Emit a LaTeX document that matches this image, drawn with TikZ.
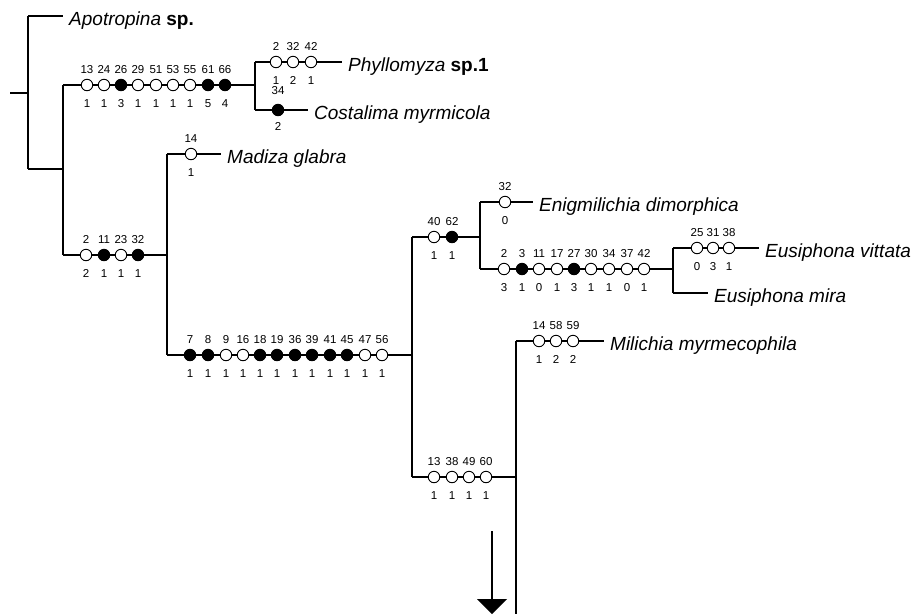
\documentclass[tikz,border=0pt]{standalone}
\usepackage{fontspec}
\setmainfont{Liberation Sans}
\usetikzlibrary{calc}

\begin{document}
\begin{tikzpicture}[x=1pt, y=-1pt,
    branch/.style={line width=1.8pt},
    open/.style={circle, draw, fill=white, line width=0.9pt, minimum size=11.5pt, inner sep=0pt},
    shut/.style={open, fill=black},
    num/.style={font=\fontsize{11.5}{12}\selectfont, inner sep=0pt},
    taxon/.style={anchor=base west, inner xsep=6pt, inner ysep=0pt, font=\fontsize{19}{21}\selectfont},
    every label/.style={num}]
    \useasboundingbox (0,0) rectangle (914,614);

    % Internal nodes of the tree
    \coordinate (n0t) at (28,16);  \coordinate (n0b) at (28,169);
    \coordinate (n1t) at (63,85);  \coordinate (n1b) at (63,255);
    \coordinate (n2t) at (255,62); \coordinate (n2b) at (255,110);
    \coordinate (n3t) at (167,154); \coordinate (n3b) at (167,355);
    \coordinate (n4t) at (412,237); \coordinate (n4b) at (412,477);
    \coordinate (n5t) at (480,202); \coordinate (n5b) at (480,269);
    \coordinate (n6t) at (673,248); \coordinate (n6b) at (673,293);
    \coordinate (n7t) at (516,341); \coordinate (n7b) at (516,614);
    \coordinate (root) at (10,93);

    % Terminal taxa
    \node[taxon] (apo) at (63,25) {\textit{Apotropina} \textbf{sp.}};
    \node[taxon] (phy) at (342,71) {\textit{Phyllomyza} \textbf{sp.1}};
    \node[taxon] (cos) at (308,119) {\textit{Costalima myrmicola}};
    \node[taxon] (mad) at (221,163) {\textit{Madiza glabra}};
    \node[taxon] (eni) at (533,211) {\textit{Enigmilichia dimorphica}};
    \node[taxon] (vit) at (759,257) {\textit{Eusiphona vittata}};
    \node[taxon] (mir) at (708,302) {\textit{Eusiphona mira}};
    \node[taxon] (mil) at (604,350) {\textit{Milichia myrmecophila}};

    % Vertical bars
    \foreach \n in {n0,n1,n2,n3,n4,n5,n6,n7}
        \draw[branch] (\n t) -- (\n b);

    % Horizontal branches
    \draw[branch] (root) -- (root -| n0t);
    \draw[branch] (n0t) -- (n0t -| apo.west);
    \draw[branch] (n0b) -- (n0b -| n1t);
    \draw[branch] (n1t) -- (n1t -| n2t);
    \draw[branch] (n2t) -- (n2t -| phy.west);
    \draw[branch] (n2b) -- (n2b -| cos.west);
    \draw[branch] (n1b) -- (n1b -| n3t);
    \draw[branch] (n3t) -- (n3t -| mad.west);
    \draw[branch] (n3b) -- (n3b -| n4t);
    \draw[branch] (n4t) -- (n4t -| n5t);
    \draw[branch] (n5t) -- (n5t -| eni.west);
    \draw[branch] (n5b) -- (n5b -| n6t);
    \draw[branch] (n6t) -- (n6t -| vit.west);
    \draw[branch] (n6b) -- (n6b -| mir.west);
    \draw[branch] (n4b) -- (n4b -| n7t);
    \draw[branch] (n7t) -- (n7t -| mil.west);

    % Character changes: x/state/character/new state
    \foreach \x/\s/\a/\b in {87/open/13/1, 104/open/24/1, 121/shut/26/3,
            138/open/29/1, 156/open/51/1, 173/open/53/1, 190/open/55/1,
            208/shut/61/5, 225/shut/66/4}
        \node[\s, label={[label distance=5pt]above:\a}, label={[label distance=8pt]below:\b}] (a\a) at (\x,85) {};
    \foreach \x/\s/\a/\b in {276/open/2/1, 293/open/32/2, 311/open/42/1}
        \node[\s, label={[label distance=5pt]above:\a}, label={[label distance=8pt]below:\b}] (p\a) at (\x,62) {};
    \node[shut, label={[label distance=9pt]above:34}, label={[label distance=6pt]below:2}] (c34) at (278,110) {};
    \foreach \x/\s/\a/\b in {86/open/2/2, 104/shut/11/1, 121/open/23/1, 138/shut/32/1}
        \node[\s, label={[label distance=5pt]above:\a}, label={[label distance=8pt]below:\b}] (m\a) at (\x,255) {};
    \node[open, label={[label distance=5pt]above:14}, label={[label distance=8pt]below:1}] (g14) at (191,154) {};
    \foreach \x/\s/\a/\b in {190/shut/7/1, 208/shut/8/1, 226/open/9/1, 243/open/16/1,
            260/shut/18/1, 277/shut/19/1, 295/shut/36/1, 312/shut/39/1,
            330/shut/41/1, 347/shut/45/1, 365/open/47/1, 382/open/56/1}
        \node[\s, label={[label distance=5pt]above:\a}, label={[label distance=8pt]below:\b}] (l\a) at (\x,355) {};
    \foreach \x/\s/\a/\b in {434/open/40/1, 452/shut/62/1}
        \node[\s, label={[label distance=5pt]above:\a}, label={[label distance=8pt]below:\b}] (k\a) at (\x,237) {};
    \node[open, label={[label distance=5pt]above:32}, label={[label distance=8pt]below:0}] (e32) at (505,202) {};
    \foreach \x/\s/\a/\b in {504/open/2/3, 522/shut/3/1, 539/open/11/0, 557/open/17/1,
            574/shut/27/3, 591/open/30/1, 609/open/34/1, 627/open/37/0, 644/open/42/1}
        \node[\s, label={[label distance=5pt]above:\a}, label={[label distance=8pt]below:\b}] (s\a) at (\x,269) {};
    \foreach \x/\s/\a/\b in {697/open/25/0, 713/open/31/3, 729/open/38/1}
        \node[\s, label={[label distance=5pt]above:\a}, label={[label distance=8pt]below:\b}] (v\a) at (\x,248) {};
    \foreach \x/\s/\a/\b in {434/open/13/1, 452/open/38/1, 469/open/49/1, 486/open/60/1}
        \node[\s, label={[label distance=5pt]above:\a}, label={[label distance=8pt]below:\b}] (r\a) at (\x,477) {};
    \foreach \x/\s/\a/\b in {539/open/14/1, 556/open/58/2, 573/open/59/2}
        \node[\s, label={[label distance=5pt]above:\a}, label={[label distance=8pt]below:\b}] (q\a) at (\x,341) {};

    % Continuation arrow
    \coordinate (arrtop) at (492,531);
    \coordinate (arrtip) at (492,614);
    \draw[line width=1.3pt] (arrtop) -- ($(arrtip)+(0,-14)$);
    \fill ($(arrtip)+(-15,-15)$) -- ($(arrtip)+(15,-15)$) -- (arrtip) -- cycle;
\end{tikzpicture}
\end{document}
